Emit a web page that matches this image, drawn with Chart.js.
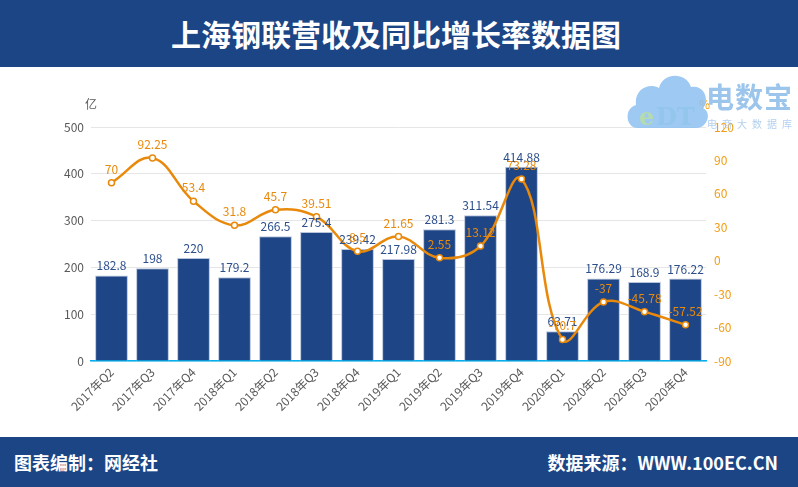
<!DOCTYPE html>
<html>
<head>
<meta charset="utf-8">
<script src="https://cdn.jsdelivr.net/npm/chart.js@4/dist/chart.umd.min.js"></script>
<style>
  body { margin: 0; width: 798px; height: 487px; overflow: hidden; background: #fff;
         font-family: "Noto Sans CJK SC", "Noto Sans", sans-serif; position: relative; }
  .band { position: absolute; left: 0; width: 798px; background: #1c4586; color: #fff; font-weight: bold; }
  #head { top: 0; height: 67px; text-align: center; font-size: 30px; line-height: 66px; padding-right: 6px; box-sizing: border-box; }
  #foot { top: 437px; height: 50px; font-size: 18px; line-height: 50px; }
  #foot .l { position: absolute; left: 14px; }
  #foot .r { position: absolute; right: 20px; }
  #wrap { position: absolute; left: 0; top: 67px; width: 798px; height: 370px; }
  #logo { position: absolute; left: 626px; top: 70px; width: 170px; height: 65px; pointer-events: none; opacity: 0.85; }
  .unit { position: absolute; font-size: 12px; }
</style>
</head>
<body>
<div id="head" class="band">上海钢联营收及同比增长率数据图</div>
<div id="wrap"><canvas id="chart" width="798" height="370"></canvas></div>
<div class="unit" style="left:85px;top:95px;color:#595959">亿</div>
<div class="unit" style="left:699px;top:95px;color:#f39c12">%</div>
<svg id="logo" viewBox="0 0 170 65">
  <path d="M12 58 C-1 58 -2 38 10 35 C8 20 22 12 33 18 C37 2 60 2 65 17 C78 14 84 30 77 38 C86 42 82 58 70 58 Z" fill="#8cc0f0"/>
  <text x="13" y="55" font-size="24" font-family="DejaVu Serif" fill="#a8d5a0" font-weight="bold">e</text>
  <text x="30" y="55" font-size="24" font-family="DejaVu Serif" fill="#7fbce8" font-weight="bold">DT</text>
  <text x="80" y="38" font-size="28" font-weight="bold" fill="#8bbbe9" font-family="Noto Sans CJK SC" letter-spacing="1">电数宝</text>
  <text x="81" y="58" font-size="10" fill="#a5c8ec" font-family="Noto Sans CJK SC" letter-spacing="5">电商大数据库</text>
</svg>
<div id="foot" class="band"><span class="l">图表编制：网经社</span><span class="r">数据来源：WWW.100EC.CN</span></div>
<script>
const quarters = ["2017年Q2", "2017年Q3", "2017年Q4", "2018年Q1", "2018年Q2", "2018年Q3", "2018年Q4", "2019年Q1",
  "2019年Q2", "2019年Q3", "2019年Q4", "2020年Q1", "2020年Q2", "2020年Q3", "2020年Q4"];
const revenue = [182.8, 198, 220, 179.2, 266.5, 275.4, 239.42, 217.98, 281.3, 311.54, 414.88, 63.71, 176.29, 168.9, 176.22];
const growth = [70, 92.25, 53.4, 31.8, 45.7, 39.51, 8.5, 21.65, 2.55, 13.12, 73.28, -70.7, -37, -45.78, -57.52];

const FONT = "'Noto Sans CJK SC', 'Noto Sans', sans-serif";

// draws value labels above bars and points
const valueLabels = {
  id: 'valueLabels',
  afterDatasetsDraw(chart) {
    const ctx = chart.ctx;
    ctx.save();
    ctx.font = "12px " + FONT;
    ctx.textAlign = "center";
    ctx.textBaseline = "alphabetic";
    chart.getDatasetMeta(1).data.forEach((bar, i) => {
      ctx.fillStyle = "#2c4f8c";
      ctx.fillText(revenue[i], bar.x, bar.y - 5);
    });
    chart.getDatasetMeta(0).data.forEach((pt, i) => {
      ctx.fillStyle = "#e8890c";
      ctx.fillText(growth[i], pt.x, pt.y - 9);
    });
    ctx.restore();
  }
};

new Chart(document.getElementById("chart"), {
  data: {
    labels: quarters,
    datasets: [
      {
        type: 'line',
        label: '同比增长率',
        data: growth,
        yAxisID: 'y2',
        order: 0,
        borderColor: '#e8890c',
        borderWidth: 2.5,
        tension: 0.4,
        pointRadius: 3,
        pointBackgroundColor: '#fff',
        pointBorderColor: '#e8890c',
        pointBorderWidth: 1.5
      },
      {
        type: 'bar',
        label: '营收',
        data: revenue,
        yAxisID: 'y',
        order: 1,
        backgroundColor: '#1e4586',
        borderColor: '#b7c5dc',
        borderWidth: 1,
        categoryPercentage: 0.8,
        barPercentage: 1
      }
    ]
  },
  options: {
    responsive: false,
    animation: false,
    layout: { padding: { top: 60, left: 0, right: 0, bottom: 0 } },
    plugins: { legend: { display: false }, tooltip: { enabled: false } },
    scales: {
      x: {
        grid: { display: false, drawTicks: false },
        border: { color: '#00b0f0', width: 1.5 },
        ticks: { color: '#595959', font: { size: 12, family: FONT }, maxRotation: 45, minRotation: 45, padding: 4 },
        afterFit: s => { s.height = 76; }
      },
      y: {
        position: 'left',
        min: 0, max: 500,
        ticks: { stepSize: 100, color: '#595959', font: { size: 12, family: FONT }, padding: 7 },
        grid: { color: '#e6e6e6', drawTicks: false },
        border: { display: false },
        afterFit: s => { s.width = 91; }
      },
      y2: {
        position: 'right',
        min: -90, max: 120,
        ticks: { stepSize: 30, color: '#f39c12', font: { size: 12, family: FONT }, padding: 8 },
        grid: { display: false, drawTicks: false },
        border: { display: false },
        afterFit: s => { s.width = 92; }
      }
    }
  },
  plugins: [valueLabels]
});
</script>
</body>
</html>
